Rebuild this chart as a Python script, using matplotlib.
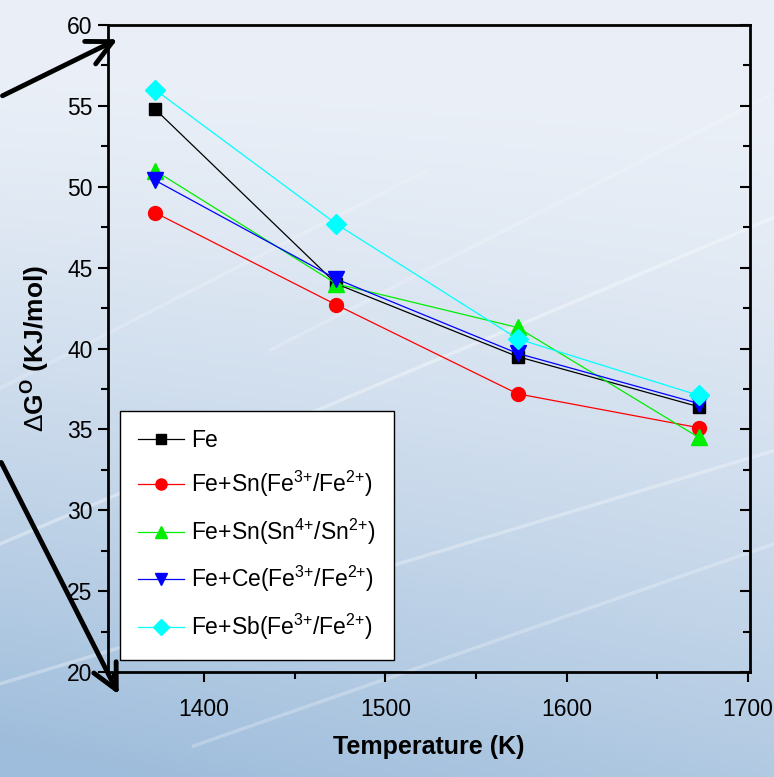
import numpy as np
import matplotlib
matplotlib.use("Agg")
import matplotlib.pyplot as plt
from matplotlib.ticker import MultipleLocator

plt.rcParams['font.family'] = ['Liberation Sans', 'DejaVu Sans']
plt.rcParams['mathtext.fontset'] = 'custom'
plt.rcParams['mathtext.rm'] = 'Liberation Sans'
plt.rcParams['mathtext.bf'] = 'Liberation Sans:bold'

# temperature (K)
temp = [1373, 1473, 1573, 1673]

# Delta G (KJ/mol)
fe = [54.8, 44.0, 39.5, 36.4]
fe_sn_fe = [48.4, 42.7, 37.2, 35.1]
fe_sn_sn = [51.0, 44.0, 41.3, 34.5]
fe_ce = [50.4, 44.3, 39.7, 36.6]
fe_sb = [56.0, 47.7, 40.6, 37.1]

labels = ["Fe",
          "Fe+Sn(Fe$^{3{+}}$/Fe$^{2{+}}$)",
          "Fe+Sn(Sn$^{4{+}}$/Sn$^{2{+}}$)",
          "Fe+Ce(Fe$^{3{+}}$/Fe$^{2{+}}$)",
          "Fe+Sb(Fe$^{3{+}}$/Fe$^{2{+}}$)"]

fig = plt.figure(figsize=(7.74, 7.77), dpi=100)

# bluish photo-like background
bg = fig.add_axes([0, 0, 1, 1], zorder=-10)
yy, xx = np.mgrid[0:1:200j, 0:1:200j]
t = np.clip(0.8 * yy ** 1.5 + 0.3 * (1 - xx) * yy - 0.05, 0, 1)
top = np.array([0.92, 0.94, 0.97])
bot = np.array([0.62, 0.74, 0.86])
img = top[None, None, :] * (1 - t[..., None]) + bot[None, None, :] * t[..., None]
bg.imshow(img, extent=[0, 1, 0, 1], origin='upper', aspect='auto')
for x0, y0, x1, y1, a in [(0.0, 0.30, 1.0, 0.72, 0.35), (0.0, 0.12, 1.0, 0.42, 0.3),
                          (0.25, 0.04, 1.0, 0.30, 0.25), (0.35, 0.55, 1.0, 0.88, 0.2),
                          (0.0, 0.50, 0.55, 0.78, 0.2)]:
    bg.plot([x0, x1], [y0, y1], color='white', lw=2.5, alpha=a)
bg.set_xlim(0, 1)
bg.set_ylim(0, 1)
bg.axis('off')

ax = fig.add_axes([0.1395, 0.1351, 0.829, 0.8327])
ax.set_facecolor('none')

ax.plot(temp, fe, color='black', marker='s', ms=9, lw=0.9, label=labels[0])
ax.plot(temp, fe_sn_fe, color='red', marker='o', ms=10, lw=0.9, label=labels[1])
ax.plot(temp, fe_sn_sn, color='#00ee00', marker='^', ms=11, lw=0.9, label=labels[2])
ax.plot(temp, fe_ce, color='blue', marker='v', ms=11, lw=0.9, label=labels[3])
ax.plot(temp, fe_sb, color='cyan', marker='D', ms=10, lw=0.9, label=labels[4])

ax.set_xlim(1347, 1701)
ax.set_ylim(20, 60)
ax.xaxis.set_major_locator(MultipleLocator(100))
ax.xaxis.set_minor_locator(MultipleLocator(50))
ax.yaxis.set_major_locator(MultipleLocator(5))
ax.yaxis.set_minor_locator(MultipleLocator(2.5))
ax.tick_params(which='major', direction='out', length=7, width=1.5, labelsize=16.5)
ax.tick_params(which='minor', direction='out', length=5, width=1.5)
ax.tick_params(axis='x', pad=12)
ax.tick_params(axis='y', pad=4)
ax.tick_params(axis='y', which='both', right=True)
for s in ax.spines.values():
    s.set_linewidth(2)

# right-side ticks point inward
for tl in ax.yaxis.get_major_ticks() + ax.yaxis.get_minor_ticks():
    tl.tick2line.set_marker(matplotlib.lines.TICKLEFT)

ax.set_xlabel("Temperature (K)", fontsize=18, fontweight='bold', labelpad=10)
ax.set_ylabel(r"$\Delta$G$^{\mathbf{O}}$ (KJ/mol)", fontsize=19, fontweight='bold', labelpad=12)

leg = ax.legend(loc='lower left', bbox_to_anchor=(0.008, 0.008), fontsize=16.5,
                frameon=True, fancybox=False, edgecolor='black', framealpha=1,
                handlelength=2.0, handletextpad=0.3, labelspacing=0.75,
                borderpad=0.8, borderaxespad=0.3, markerscale=0.8)
leg.get_frame().set_linewidth(1.0)

# decorative arrows on the left
for start, end in [((0.0, 97), (120, 38)), ((0.0, 460), (120, 697))]:
    fig.patches.append(matplotlib.patches.FancyArrowPatch(
        (start[0] / 774, 1 - start[1] / 777), (end[0] / 774, 1 - end[1] / 777),
        transform=fig.transFigure, arrowstyle='->,head_length=0.9,head_width=0.45',
        mutation_scale=20, lw=3.5, color='black'))

fig.savefig("out.png", dpi=100)
